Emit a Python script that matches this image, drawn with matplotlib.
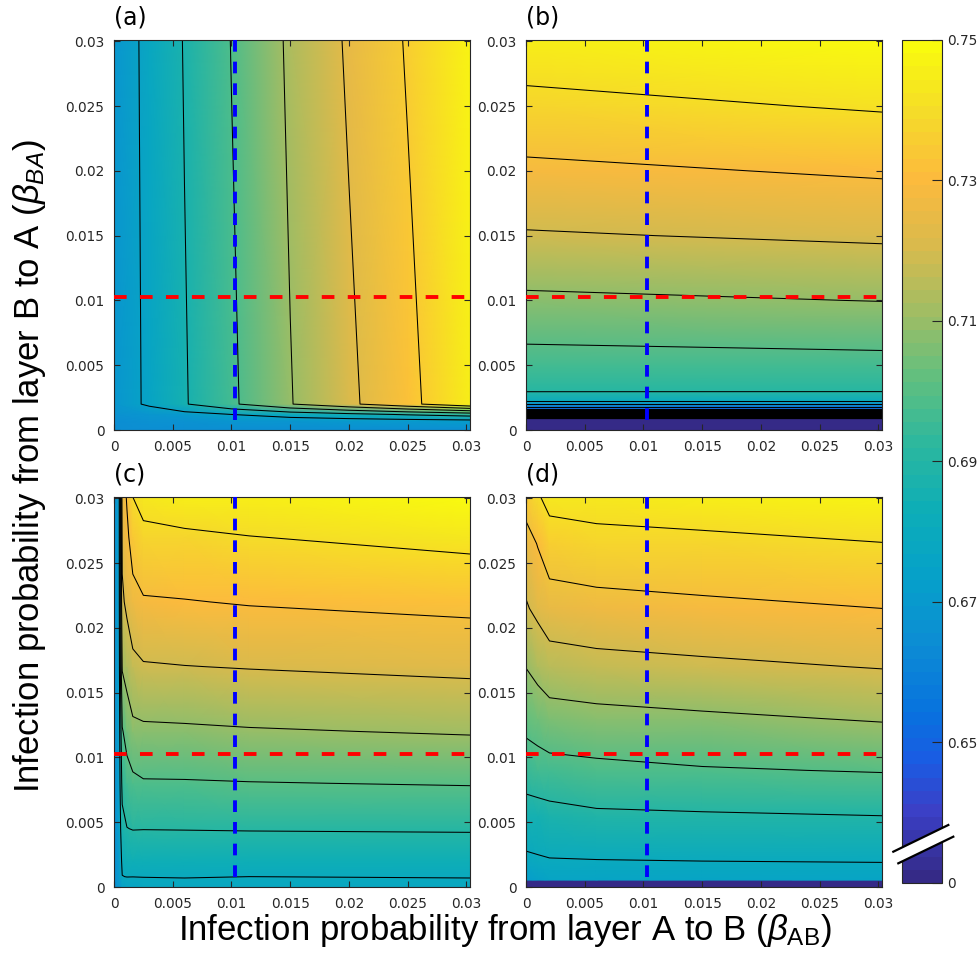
import numpy as np
import matplotlib
matplotlib.use("Agg")
import matplotlib.pyplot as plt
from matplotlib.colors import LinearSegmentedColormap, Normalize
from matplotlib.patches import Polygon
from matplotlib.lines import Line2D

plt.rcParams['font.family'] = ['DejaVu Sans']
plt.rcParams['lines.scale_dashes'] = False
plt.rcParams['mathtext.fontset'] = 'custom'
plt.rcParams['mathtext.rm'] = 'Liberation Sans'
plt.rcParams['mathtext.it'] = 'Liberation Sans:italic'

# ---- данные ----
# (a): значение в основном зависит от beta_AB, у нижнего края провал
a_x = [0.0, 0.003, 0.006, 0.010, 0.015, 0.020, 0.025, 0.0303]
a_y = [0.0, 0.0007, 0.0012, 0.002, 0.0301]
a_z = [
    [0.664, 0.664, 0.664, 0.664, 0.664, 0.664, 0.664, 0.664],
    [0.665, 0.666, 0.667, 0.668, 0.669, 0.670, 0.671, 0.672],
    [0.666, 0.668, 0.671, 0.675, 0.680, 0.684, 0.688, 0.692],
    [0.669, 0.6768, 0.6861, 0.6973, 0.7105, 0.7209, 0.7321, 0.745],
    [0.669, 0.6775, 0.6876, 0.6993, 0.7126, 0.7244, 0.736, 0.748],
]
a_levels = [0.675, 0.687, 0.699, 0.711, 0.723, 0.735]

# (b): зависит в основном от beta_BA, внизу нулевая полоса
b_x = [0.0, 0.0303]
b_y = [0.0, 0.0009, 0.0016, 0.0022, 0.003, 0.005, 0.01, 0.015, 0.02, 0.025, 0.0301]
b_z = [
    [0.0, 0.0],
    [0.0, 0.0],
    [0.65, 0.65],
    [0.68, 0.68],
    [0.6906, 0.6905],
    [0.696, 0.697],
    [0.7083, 0.7102],
    [0.7192, 0.7214],
    [0.728, 0.7312],
    [0.7373, 0.7409],
    [0.746, 0.750],
]
b_levels = np.round(np.arange(0.01, 0.745, 0.01), 2)

# (c)
c_x = [0.0, 0.0004, 0.0007, 0.0011, 0.0016, 0.0025, 0.006, 0.0115, 0.0303]
c_y = [0.0, 0.0008, 0.002, 0.0045, 0.008, 0.012, 0.017, 0.022, 0.027, 0.0301]
c_z = [
    [0.665, 0.668, 0.674, 0.675, 0.676, 0.677, 0.678, 0.678, 0.678],
    [0.665, 0.670, 0.6798, 0.6802, 0.6801, 0.6802, 0.6803, 0.680, 0.6803],
    [0.665, 0.671, 0.682, 0.6835, 0.6834, 0.6835, 0.6835, 0.6834, 0.6837],
    [0.665, 0.672, 0.6867, 0.6898, 0.6903, 0.6902, 0.6903, 0.6905, 0.6908],
    [0.665, 0.672, 0.6929, 0.6958, 0.6978, 0.6992, 0.6993, 0.6997, 0.7005],
    [0.665, 0.672, 0.6992, 0.7036, 0.7077, 0.7083, 0.7086, 0.7093, 0.7107],
    [0.665, 0.672, 0.7108, 0.7141, 0.7176, 0.7192, 0.7198, 0.7204, 0.7221],
    [0.665, 0.672, 0.7185, 0.722, 0.7263, 0.7291, 0.7296, 0.7306, 0.7326],
    [0.665, 0.672, 0.722, 0.7277, 0.7349, 0.7379, 0.7386, 0.7398, 0.7426],
    [0.665, 0.672, 0.724, 0.731, 0.740, 0.743, 0.745, 0.746, 0.749],
]
c_levels = [0.68, 0.69, 0.70, 0.71, 0.72, 0.73, 0.74]

# (d)
d_x = [0.0, 0.001, 0.002, 0.006, 0.015, 0.0303]
d_y = [0.0, 0.0005, 0.00055, 0.002, 0.0055, 0.009, 0.013, 0.017, 0.0215, 0.0265, 0.0301]
d_z = [
    [0.0, 0.0, 0.0, 0.0, 0.0, 0.0],
    [0.0, 0.0, 0.0, 0.0, 0.0, 0.0],
    [0.673, 0.674, 0.675, 0.675, 0.6755, 0.676],
    [0.6785, 0.679, 0.6795, 0.6797, 0.680, 0.6803],
    [0.6853, 0.686, 0.6867, 0.6885, 0.6891, 0.690],
    [0.6951, 0.696, 0.6969, 0.6978, 0.6993, 0.7005],
    [0.7029, 0.7045, 0.7061, 0.7072, 0.7086, 0.7107],
    [0.7102, 0.713, 0.7158, 0.717, 0.7183, 0.7204],
    [0.7191, 0.7222, 0.7253, 0.7266, 0.728, 0.730],
    [0.7254, 0.7305, 0.7356, 0.737, 0.738, 0.7398],
    [0.735, 0.739, 0.743, 0.744, 0.745, 0.747],
]
d_levels = [0.68, 0.69, 0.70, 0.71, 0.72, 0.73, 0.74]

beta_ab_mark = 0.0103   # синяя вертикаль
beta_ba_mark = 0.0103   # красная горизонталь

ticks = [0, 0.005, 0.01, 0.015, 0.02, 0.025, 0.03]
tick_labels = ['0', '0.005', '0.01', '0.015', '0.02', '0.025', '0.03']
cb_ticks = [0.63, 0.65, 0.67, 0.69, 0.71, 0.73, 0.75]
cb_labels = ['0', '0.65', '0.67', '0.69', '0.71', '0.73', '0.75']

# ---- оформление ----
parula = LinearSegmentedColormap.from_list('parula', [
    (0.00, (0.208, 0.166, 0.529)),
    (0.08, (0.23, 0.25, 0.78)),
    (0.14, (0.10, 0.36, 0.89)),
    (0.20, (0.03, 0.45, 0.87)),
    (0.28, (0.05, 0.55, 0.83)),
    (0.36, (0.02, 0.63, 0.79)),
    (0.44, (0.05, 0.68, 0.72)),
    (0.52, (0.17, 0.72, 0.62)),
    (0.60, (0.38, 0.75, 0.50)),
    (0.68, (0.63, 0.74, 0.39)),
    (0.76, (0.85, 0.73, 0.30)),
    (0.84, (0.99, 0.73, 0.24)),
    (0.92, (0.96, 0.86, 0.16)),
    (1.00, (0.976, 0.983, 0.054)),
], N=64)
norm = Normalize(vmin=0.63, vmax=0.75)
DARK = '#262626'
LABEL_FONT = ['Liberation Sans', 'DejaVu Sans']

W, H = 979, 955


def box(l, t, r, b):
    return [l / W, 1 - b / H, (r - l) / W, (b - t) / H]


def fx(px, py):
    return px / W, 1 - py / H


fig = plt.figure(figsize=(9.79, 9.55), dpi=100)

panels = [
    ('(a)', box(114, 40, 470, 430), a_x, a_y, a_z, a_levels),
    ('(b)', box(526, 40, 882, 430), b_x, b_y, b_z, b_levels),
    ('(c)', box(114, 497, 470, 887), c_x, c_y, c_z, c_levels),
    ('(d)', box(526, 497, 882, 887), d_x, d_y, d_z, d_levels),
]

for name, rect, xs, ys, zs, levels in panels:
    ax = fig.add_axes(rect)
    X, Y = np.meshgrid(xs, ys)
    Z = np.array(zs)
    ax.pcolormesh(X, Y, Z, shading='gouraud', cmap=parula, norm=norm)
    ax.contour(X, Y, Z, levels=levels, colors='k', linewidths=0.75)
    ax.plot([0, 0.0303], [beta_ba_mark, beta_ba_mark], color='red', lw=2.8,
            dashes=(9.1, 9.6), zorder=5)
    ax.plot([beta_ab_mark, beta_ab_mark], [0.0301, 0], color='blue', lw=2.8,
            dashes=(8.4, 7.2), zorder=5)
    ax.set_xlim(0, 0.0303)
    ax.set_ylim(0, 0.0301)
    ax.set_xticks(ticks, tick_labels)
    ax.set_yticks(ticks, tick_labels)
    ax.tick_params(direction='in', top=True, right=True, length=4, width=0.8,
                   labelsize=9.8, colors=DARK, pad=7)
    for sp in ax.spines.values():
        sp.set_color(DARK)
        sp.set_linewidth(0.8)
    ax.text(0, 1.058, name, transform=ax.transAxes, ha='left', va='center',
            fontsize=17, color='k')

cax = fig.add_axes(box(902, 40, 942, 883))
sm = plt.cm.ScalarMappable(norm=norm, cmap=parula)
cb = fig.colorbar(sm, cax=cax, ticks=cb_ticks)
cb.set_ticklabels(cb_labels)
cax.tick_params(direction='in', length=7, width=0.8, labelsize=9.8,
                colors=DARK, pad=4)
cb.outline.set_edgecolor(DARK)
cb.outline.set_linewidth(0.8)

# разрыв шкалы
p1, p2 = fx(893.3, 851.7), fx(948.3, 825.0)
p3, p4 = fx(898.3, 863.3), fx(953.3, 836.7)
fig.add_artist(Polygon([p1, p2, p4, p3], closed=True, facecolor='white',
                       edgecolor='none', transform=fig.transFigure, zorder=10))
for a, b in [(p1, p2), (p3, p4)]:
    fig.add_artist(Line2D([a[0], b[0]], [a[1], b[1]], color='k', lw=1.6,
                          transform=fig.transFigure, zorder=11))

fig.text(*fx(505, 930), r'Infection probability from layer A to B ($\beta_{\rm AB}$)',
         ha='center', va='center', fontsize=25, family=LABEL_FONT, color='k')
fig.text(*fx(30, 466), r'Infection probability from layer B to A ($\beta_{BA}$)',
         ha='center', va='center', rotation=90, fontsize=25, family=LABEL_FONT,
         color='k')

fig.savefig('out.png', dpi=100)
